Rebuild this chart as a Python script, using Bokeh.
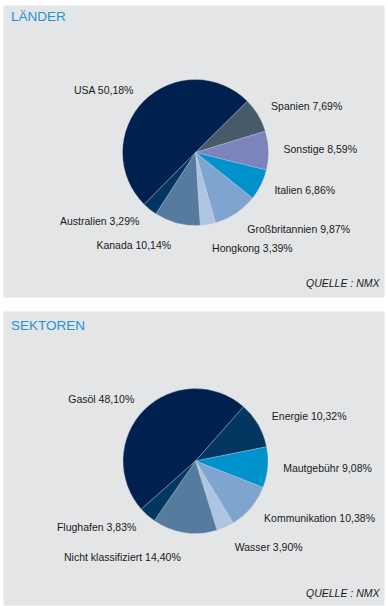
import numpy as np
from bokeh.plotting import figure
from bokeh.models import ColumnDataSource, Range1d
from bokeh.core.properties import value
from bokeh.embed import file_html
from bokeh.resources import INLINE

# ---------------- data ----------------
laender_names = ["USA", "Spanien", "Sonstige", "Italien", "Großbritannien",
                 "Hongkong", "Kanada", "Australien"]
laender_values = [50.18, 7.69, 8.59, 6.86, 9.87, 3.39, 10.14, 3.29]
laender_colors = ["#00214f", "#455a6a", "#7c84bb", "#0092cd", "#80a4d0",
                  "#aec4e3", "#557b9f", "#023560"]

sektoren_names = ["Gasöl", "Energie", "Mautgebühr", "Kommunikation", "Wasser",
                  "Nicht klassifiziert", "Flughafen"]
sektoren_values = [48.10, 10.32, 9.08, 10.38, 3.90, 14.40, 3.83]
sektoren_colors = ["#00214f", "#033762", "#0092cd", "#80a4d0", "#aec4e3",
                   "#557b9f", "#033762"]

titles = ["LÄNDER", "SEKTOREN"]
source_text = "QUELLE : NMX"

# ---------------- layout (page pixel coordinates, y downward) ----------------
W, H = 388, 606
TXT_SHIFT = 5  # rendering correction for text baseline
def Y(y):
    return H - y

p = figure(width=W, height=H, output_backend="svg", toolbar_location=None,
           x_axis_type=None, y_axis_type=None,
           x_range=Range1d(0, W), y_range=Range1d(0, H),
           min_border=0, outline_line_color=None, background_fill_color="white",
           border_fill_color="white")
p.grid.visible = False

FONT = value("Liberation Sans")
BG = "#e4e5e7"
TITLE_C = "#2492d0"

panels = [
    dict(top=5, bottom=297, cx=195, cy=152, r=73, start=225.3,
         names=laender_names, vals=laender_values, cols=laender_colors,
         lab_r=[87, 88, 88, 88, 93.5, 98, 96.7, 89.6], title_base=21, src_base=287.5),
    dict(top=311, bottom=605, cx=195, cy=460.5, r=72.5, start=221.6,
         names=sektoren_names, vals=sektoren_values, cols=sektoren_colors,
         lab_r=[86.6, 88, 88, 89.6, 95.6, 97.7, 89.3], title_base=329.5, src_base=597),
]

for i, pn in enumerate(panels):
    p.quad(left=3, right=384, top=Y(pn["top"]), bottom=Y(pn["bottom"]),
           fill_color=BG, line_color=None)
    vals = np.array(pn["vals"], dtype=float)
    deg = vals / vals.sum() * 360.0
    cum = np.concatenate([[0], np.cumsum(deg)])
    starts = pn["start"] - cum[:-1]
    ends = pn["start"] - cum[1:]
    mids = (starts + ends) / 2.0
    src = ColumnDataSource(dict(
        x=[pn["cx"]] * len(vals), y=[Y(pn["cy"])] * len(vals),
        s=np.radians(starts), e=np.radians(ends), c=pn["cols"]))
    p.wedge(x="x", y="y", radius=pn["r"], start_angle="s", end_angle="e",
            direction="clock", fill_color="c", line_color="#d0d6e0",
            line_alpha=0.6, line_width=0.5, source=src)

    # labels
    lx, ly, la, lt = [], [], [], []
    for nm, v, m, rr in zip(pn["names"], pn["vals"], mids, pn["lab_r"]):
        a = np.radians(m)
        lx.append(pn["cx"] + rr * np.cos(a))
        ly.append(Y(pn["cy"]) + rr * np.sin(a) - 4 + TXT_SHIFT)
        la.append("left" if np.cos(a) >= 0 else "right")
        lt.append(f"{nm} {v:.2f}%".replace(".", ","))
    lsrc = ColumnDataSource(dict(x=lx, y=ly, t=lt, a=la))
    p.text(x="x", y="y", text="t", text_align="a", text_baseline="alphabetic",
           text_font=FONT, text_font_size="10.5px", text_color="#1a1a1a",
           source=lsrc)

    p.text(x=[10.5], y=[Y(pn["title_base"]) + TXT_SHIFT], text=[titles[i]],
           text_align="left", text_baseline="alphabetic", text_font=FONT,
           text_font_size="13.5px", text_color=TITLE_C)
    p.text(x=[379], y=[Y(pn["src_base"]) + TXT_SHIFT], text=[source_text],
           text_align="right", text_baseline="alphabetic", text_font=FONT,
           text_font_style="italic", text_font_size="10.5px", text_color="#1a1a1a")

open("out.html", "w").write(file_html(p, INLINE))
